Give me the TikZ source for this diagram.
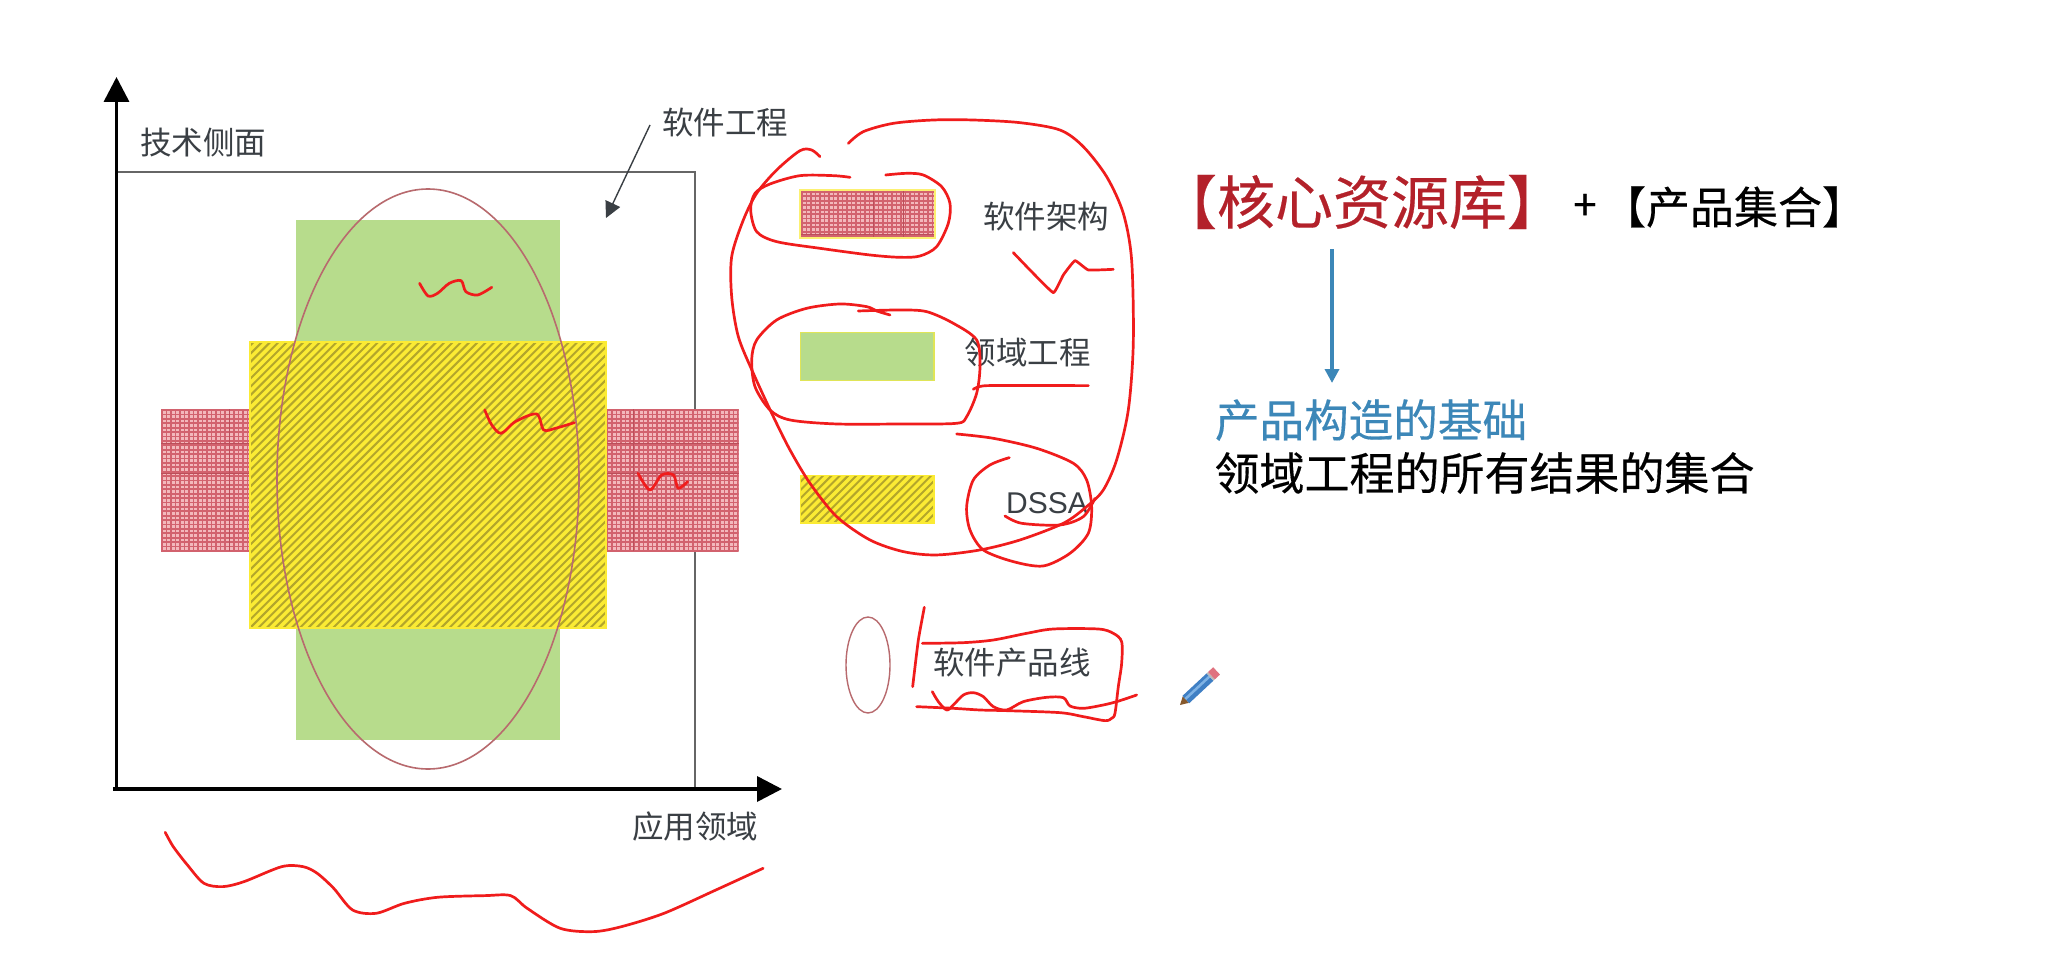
\documentclass[tikz,border=0pt]{standalone}
\usepackage{fontspec}
\setmainfont{Noto Sans CJK SC}
\newfontfamily\heavycjk[FakeBold=0.35]{Noto Sans CJK SC}
\newfontfamily\latinsans{Liberation Sans}
\usetikzlibrary{arrows.meta,shapes.geometric}
\definecolor{inkred}{HTML}{F01C1C}
\definecolor{leafgreen}{HTML}{B7DC8C}
\definecolor{hatchyellow}{HTML}{FBEB34}
\definecolor{hatchdark}{HTML}{B3A62B}
\definecolor{gridbase}{HTML}{F3B8BC}
\definecolor{gridline}{HTML}{D2626E}
\definecolor{darkgridline}{HTML}{BC4E5A}
\definecolor{textgrey}{HTML}{3A3F44}
\definecolor{titlered}{HTML}{B3212A}
\definecolor{flowblue}{HTML}{3C87B8}
\definecolor{ovalbrown}{HTML}{B86A6E}
\definecolor{boxgrey}{HTML}{666666}
\definecolor{pencilblue}{HTML}{3F7FC4}
\definecolor{pencilpale}{HTML}{7FB2E4}
\definecolor{pencilpink}{HTML}{E0727F}
\tikzset{
  ink/.style={draw=inkred,line width=2.7pt,line cap=round,line join=round},
  lbl/.style={inner sep=0pt,text=textgrey,font=\fontsize{31.5}{31.5}\selectfont},
  zoomA/.style={shift={(60,60)},x=0.4719pt,y=-0.3333pt},
  zoomB/.style={shift={(60,500)},x=0.4719pt,y=-0.3333pt},
  zoomC/.style={shift={(720,110)},x=0.3333pt,y=-0.3333pt},
  zoomD/.style={shift={(820,580)},x=0.3333pt,y=-0.3333pt},
  axisline/.style={draw=black,line width=3.6pt,-{Triangle[length=25pt,width=25pt]}},
  leftarrow/.style={draw=textgrey,line width=1.4pt,-{Triangle[length=16pt,width=16pt]}},
  flowarrow/.style={draw=flowblue,line width=3.4pt,-{Triangle[length=14pt,width=14pt]}},
  darkthread/.style={draw=darkgridline,line width=0.9pt},
}
% grid fill: x0 y0 x1 y1
\newcommand{\gridfill}[4]{%
  \fill[gridbase] (#1,#2) rectangle (#3,#4);
  \begin{scope}
    \clip (#1,#2) rectangle (#3,#4);
    \foreach \k in {0,...,130} {
      \draw[gridline,line width=1.8pt] ({#1+1+\k*4.5},#2) -- ({#1+1+\k*4.5},#4);
    }
    \foreach \k in {0,...,40} {
      \draw[gridline,line width=1.8pt] (#1,{#2+1+\k*4.4}) -- (#3,{#2+1+\k*4.4});
    }
  \end{scope}}
% hatch fill: x0 y0 x1 y1
\newcommand{\hatchfill}[4]{%
  \fill[hatchyellow] (#1,#2) rectangle (#3,#4);
  \begin{scope}
    \clip (#1,#2) rectangle (#3,#4);
    \foreach \k in {0,...,90} {
      \draw[hatchdark,line width=2pt] ({#1+\k*8.3},#4) -- ++(400,-400);
      \draw[hatchdark,line width=2pt] ({#1-\k*8.3},#4) -- ++(400,-400);
    }
  \end{scope}
  \draw[hatchyellow,line width=1.5pt] (#1,#2) rectangle (#3,#4);}
\begin{document}
\begin{tikzpicture}[x=1pt,y=-1pt]
\useasboundingbox (0,0) rectangle (2068,960);
\fill[white] (0,0) rectangle (2068,960);

% framed box
\coordinate (origin) at (116.5,789);
\draw[boxgrey,line width=1.8pt] (116.5,172) -- (695,172) -- (695,789);

% green cross bar
\fill[leafgreen] (295.5,220) rectangle (560,740);
% grid bar
\gridfill{161}{409}{738.6}{551}
\foreach \yy in {443,473} {
  \draw[darkthread] (161,\yy) -- (250,\yy);
  \draw[darkthread] (606,\yy) -- (738.6,\yy);
}
\foreach \xx in {229,633} {
  \draw[darkthread] (\xx,409) -- (\xx,551);
}
% hatched square
\hatchfill{250}{342}{606}{628}

% axes
\coordinate (ytip) at (116.5,77);
\coordinate (xstart) at (113,789);
\coordinate (xtip) at (782,789);
\draw[axisline] (origin) -- (ytip);
\draw[axisline] (xstart) -- (xtip);

% oval
\node[draw=ovalbrown,line width=1.6pt,shape=ellipse,minimum width=302pt,minimum height=580pt,inner sep=0pt] (oval) at (428,479) {};

% labels
\node[lbl] (ytext) at (203,143) {技术侧面};
\node[lbl] (setext) at (725,123) {软件工程};
\node[lbl] (xtext) at (695,827) {应用领域};
\coordinate (sefrom) at (650,125);
\coordinate (seto) at (606,218);
\draw[leftarrow] (sefrom) -- (seto);

% legend
\draw[hatchyellow!70!white,line width=3pt] (800.7,190.7) rectangle (934,237);
\gridfill{801}{191}{934}{237}
\foreach \xx in {873,903} {
  \draw[darkthread] (\xx,191) -- (\xx,237);
}
\draw[darkthread] (801,234) -- (934,234);
\fill[leafgreen] (800.7,332.7) rectangle (934,380.7);
\draw[hatchyellow!60!leafgreen,line width=1.5pt] (800.7,332.7) rectangle (934,380.7);
\hatchfill{800.7}{475.7}{934}{523}
\node[lbl] (l1) at (1046,217) {软件架构};
\node[lbl] (l2) at (1027.5,353) {领域工程};
\node[lbl,font=\latinsans\fontsize{30}{30}\selectfont] (l3) at (1047,503) {DSSA};
\node[draw=ovalbrown,line width=1.4pt,shape=ellipse,minimum width=44pt,minimum height=96pt,inner sep=0pt] (smalloval) at (868,665) {};
\node[lbl] (l4) at (1012,663) {软件产品线};

% right text
\node[inner sep=0pt,text=titlered,font=\heavycjk\fontsize{58}{58}\selectfont] (core) at (1362,202) {【核心资源库】};
\node[inner sep=0pt,text=black,font=\heavycjk\fontsize{42}{42}\selectfont] (plus) at (1585,207) {+};
\node[inner sep=0pt,text=black,font=\heavycjk\fontsize{44}{44}\selectfont] (prod) at (1734,207) {【产品集合】};
\coordinate (flowfrom) at (1332,249);
\coordinate (flowto) at (1332,383);
\draw[flowarrow] (flowfrom) -- (flowto);
\node[inner sep=0pt,text=flowblue,font=\heavycjk\fontsize{44.6}{44.6}\selectfont] (found) at (1371,420) {产品构造的基础};
\node[inner sep=0pt,text=black,font=\heavycjk\fontsize{45}{45}\selectfont] (all) at (1484.5,473) {领域工程的所有结果的集合};

% red ink on the big diagram
\begin{scope}[zoomA]
\draw[ink] plot[smooth,tension=.5] coordinates {(762,670)(780,708)(800,700)(825,670)(850,662)(860,695)(885,705)(915,682)};
\draw[ink] plot[smooth,tension=.5] coordinates {(900,1050)(915,1095)(935,1120)(965,1085)(1010,1062)(1025,1110)(1050,1105)(1090,1088)};
\draw[ink] plot[smooth,tension=.5] coordinates {(1225,1240)(1250,1290)(1275,1245)(1300,1245)(1310,1285)(1330,1265)};
\end{scope}
\begin{scope}[zoomB]
\draw[ink] plot[smooth,tension=.5] coordinates {(223,997)(240,1040)(270,1095)(305,1150)(345,1160)(390,1145)(470,1100)(515,1100)(545,1120)(580,1165)(620,1230)(670,1240)(730,1210)(800,1192)(900,1187)(955,1187)(990,1225)(1060,1285)(1130,1295)(1190,1280)(1280,1240)(1390,1170)(1490,1105)};
\end{scope}
\begin{scope}[zoomC]
\draw[ink] plot[smooth,tension=.5] coordinates {(385,100)(430,65)(520,40)(640,30)(760,30)(900,38)(1020,60)(1090,110)(1160,200)(1210,310)(1235,450)(1240,700)(1225,900)(1190,1050)(1150,1140)(1100,1190)(1030,1240)(900,1290)(780,1320)(650,1335)(550,1325)(450,1290)(350,1220)(270,1120)(210,1020)(160,920)(100,790)(55,680)(35,560)(35,440)(70,330)(110,250)(170,180)(240,122)(275,120)(300,140)};
\draw[ink] plot[smooth,tension=.5] coordinates {(390,202)(340,197)(240,197)(150,222)(105,250)(92,300)(110,365)(170,395)(300,415)(450,435)(540,442)(600,438)(650,410)(685,340)(690,280)(665,230)(610,195)(560,190)(497,195)};
\draw[ink] plot[smooth,tension=.5] coordinates {(510,615)(470,603)(440,590)(360,582)(260,595)(170,630)(110,690)(95,750)(105,830)(150,900)(210,930)(350,942)(550,942)(710,940)(740,920)(770,850)(780,770)(770,690)(700,640)(620,605)(540,600)(415,603)};
\draw[ink] plot[smooth,tension=.3] coordinates {(760,838)(800,827)(1105,827)};
\draw[ink] plot[smooth,tension=.2] coordinates {(880,428)(930,480)(1000,548)(1030,495)(1065,452)(1105,480)(1180,478)};
\draw[ink] plot[smooth,tension=.5] coordinates {(710,972)(820,985)(950,1015)(1060,1060)(1100,1110)(1115,1190)(1105,1270)(1050,1330)(970,1368)(880,1355)(790,1320)(750,1260)(740,1190)(760,1110)(810,1065)(868,1043)};
\draw[ink] plot[smooth,tension=.5] coordinates {(855,1218)(905,1240)(1020,1245)(1090,1220)(1125,1165)};
\end{scope}
\begin{scope}[zoomD]
\draw[ink] plot[smooth,tension=.3] coordinates {(313,82)(295,180)(278,320)};
\draw[ink] plot[smooth,tension=.5] coordinates {(307,190)(430,188)(520,180)(620,160)(700,147)(835,147)(880,160)(905,185)(905,250)(895,320)(885,400)(875,415)(855,422)(790,410)(720,398)(560,392)(480,390)(400,385)(290,380)};
\draw[ink] plot[smooth,tension=.5] coordinates {(337,335)(355,365)(380,390)(400,375)(430,345)(460,338)(490,350)(520,380)(560,390)(610,365)(680,352)(730,353)(750,378)(790,385)(850,375)(890,365)(930,352)(950,345)};
\end{scope}

% pencil
\begin{scope}[shift={(1180,705)},rotate=43]
\fill[brown!70!black] (0,0) -- (8,-4.5) -- (8,4.5) -- cycle;
\fill[pencilblue] (8,-5) rectangle (41,5);
\fill[pencilpale] (8,-2) rectangle (41,0.5);
\fill[gray!55] (41,-5) rectangle (43,5);
\fill[pencilpink] (43,-5) rectangle (50,5);
\end{scope}
\end{tikzpicture}
\end{document}
